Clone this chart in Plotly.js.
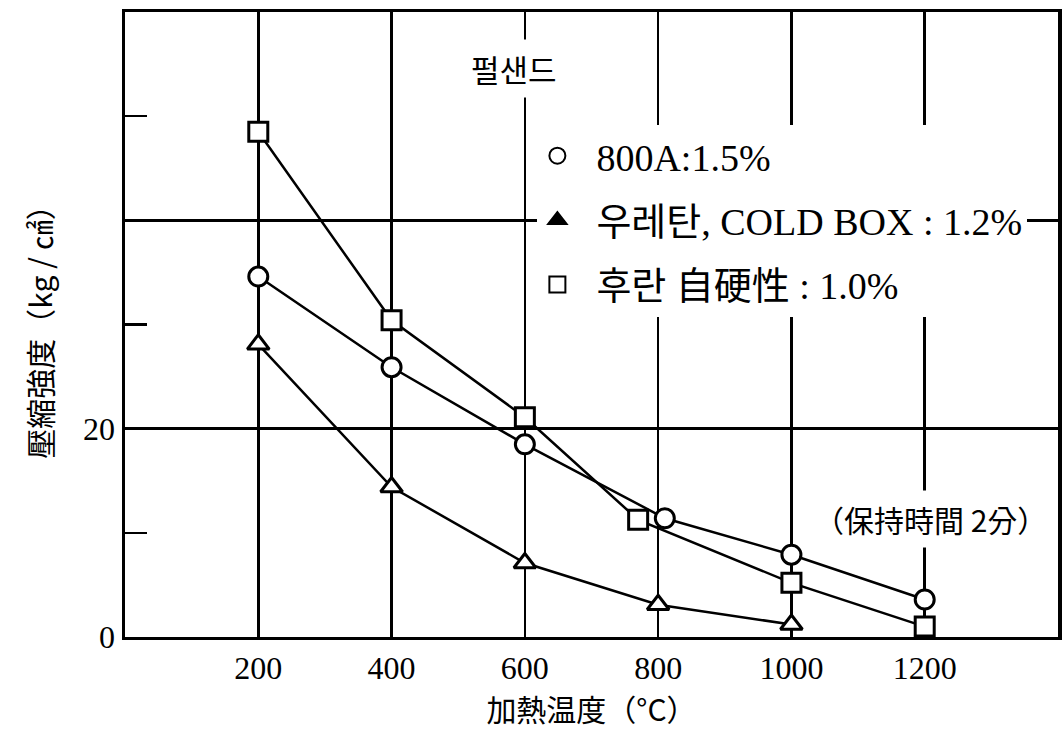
<!DOCTYPE html>
<html>
<head>
<meta charset="utf-8">
<script src="https://cdn.plot.ly/plotly-3.0.1.min.js"></script>
<style>
html,body{margin:0;padding:0;background:#fff;}
#chart{width:1063px;height:734px;}
</style>
</head>
<body>
<div id="chart"></div>
<script>
// ---- data ----
const xTicks = [200, 400, 600, 800, 1000, 1200];
const xTickLabels = ["200", "400", "600", "800", "1000", "1200"];

const circleX = [200, 400, 600, 810, 1000, 1200];
const circleY = [34.6, 25.9, 18.5, 11.4, 7.9, 3.6];

const triangleX = [200, 400, 600, 800, 1000];
const triangleY = [28.1, 14.4, 7.1, 3.1, 1.2];

const squareX = [200, 400, 600, 770, 1000, 1200];
const squareY = [48.5, 30.4, 21.1, 11.25, 5.2, 1.0];

const seriesNames = [
  "800A:1.5%",
  "우레탄, COLD BOX : 1.2%",
  "후란 自硬性 : 1.0%"
];

const yGridVals = [0, 20, 40];
const yGridLabels = ["0", "20", ""];
const yMinorVals = [10, 30, 50];

const xTitle = "加熱温度（°C）";
const yTitle = "壓縮強度（kg / ㎠）";
const noteTop = "펄샌드";
const noteRight = "（保持時間 2分）";

// ---- styling ----
const FONT = 'Liberation Serif, "Noto Sans CJK KR", serif';
const CJK = '"Noto Sans CJK KR", "Liberation Serif", sans-serif';
const pad = "\u00a0\u00a0";

function dataTrace(x, y, symbol) {
  return {
    type: "scatter", mode: "lines+markers", x: x, y: y,
    showlegend: false, hoverinfo: "x+y",
    line: {color: "#000", width: 2.5},
    marker: {symbol: symbol, size: 19, color: "#fff", line: {color: "#000", width: 3}},
    cliponaxis: false
  };
}
function legendTrace(name, symbol, group) {
  return {
    type: "scatter", mode: "markers", x: [null], y: [null],
    name: pad + name, legendgroup: group, showlegend: true,
    marker: {symbol: symbol, size: 16, color: "#000", line: {color: "#000", width: 2}}
  };
}

const data = [
  dataTrace(squareX, squareY, "square"),
  dataTrace(circleX, circleY, "circle"),
  dataTrace(triangleX, triangleY, "triangle-up"),
  legendTrace(seriesNames[0], "circle-open", "a"),
  legendTrace(seriesNames[1], "triangle-up", "b"),
  legendTrace(seriesNames[2], "square-open", "c")
];

const layout = {
  width: 1063, height: 734,
  margin: {l: 125, r: 5, t: 12, b: 97},
  paper_bgcolor: "#fff", plot_bgcolor: "#fff",
  font: {family: FONT, color: "#000"},
  xaxis: {
    range: [0, 1400], tickmode: "array", tickvals: xTicks, ticktext: xTickLabels,
    ticks: "", showgrid: true, gridcolor: "#000", gridwidth: 2.5, zeroline: false,
    showline: true, linecolor: "#000", linewidth: 3, mirror: true,
    tickfont: {family: FONT, size: 32, color: "#000"}, ticklabelstandoff: 1,
    title: {text: xTitle, font: {family: CJK, size: 30, color: "#000"}, standoff: 6}
  },
  yaxis: {
    range: [0, 60], tickmode: "array", tickvals: yGridVals, ticktext: yGridLabels,
    ticks: "", showgrid: true, gridcolor: "#000", gridwidth: 2.5, zeroline: false,
    showline: true, linecolor: "#000", linewidth: 3.5, mirror: true,
    tickfont: {family: FONT, size: 32, color: "#000"},
    minor: {tickmode: "array", tickvals: yMinorVals, ticks: "inside", ticklen: 22,
            tickwidth: 2.5, tickcolor: "#000", showgrid: false},
    title: {text: yTitle, font: {family: CJK, size: 30, color: "#000"}, standoff: 22}
  },
  showlegend: true,
  legend: {
    x: 0.442, y: 0.820, xanchor: "left", yanchor: "top",
    bgcolor: "#fff", borderwidth: 0,
    font: {family: FONT, size: 38, color: "#000"},
    traceorder: "grouped", tracegroupgap: 12
  },
  annotations: [
    {text: noteTop, xref: "paper", yref: "paper", x: 0.417, y: 0.909,
     xanchor: "center", yanchor: "middle",
     showarrow: false, font: {family: CJK, size: 31, color: "#000"},
     bgcolor: "#fff", borderpad: 6},
    {text: noteRight, xref: "paper", yref: "paper", x: 0.863, y: 0.189,
     xanchor: "center", yanchor: "middle",
     showarrow: false, font: {family: CJK, size: 30, color: "#000"},
     bgcolor: "#fff", borderpad: 6}
  ]
};

Plotly.newPlot("chart", data, layout, {displayModeBar: false, staticPlot: true});
</script>
</body>
</html>
